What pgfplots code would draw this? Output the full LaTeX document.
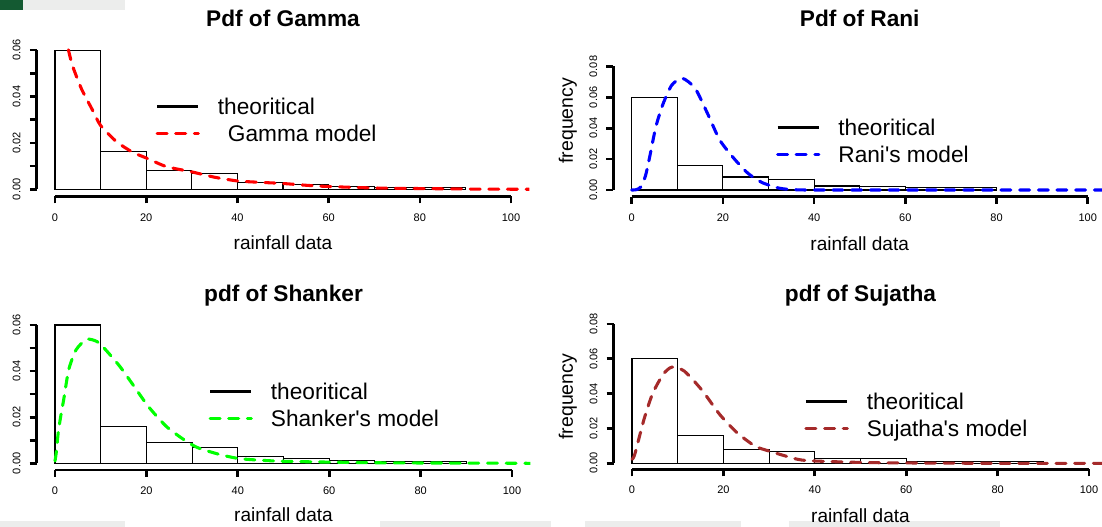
\documentclass[border=0pt]{standalone}
\usepackage{fontspec}
\setmainfont{Liberation Sans}[Ligatures=TeXOff]
\usepackage{pgfplots}
\pgfplotsset{compat=1.18}
\definecolor{rbrown}{RGB}{165,42,42}
\definecolor{rgreen}{RGB}{0,255,0}
\definecolor{rblue}{RGB}{0,0,255}
\definecolor{rred}{RGB}{255,0,0}
\definecolor{bggray}{RGB}{236,237,236}
\definecolor{logogreen}{RGB}{20,90,50}
\pgfplotsset{
  hist/.style={ybar interval, draw=black, fill=none, line width=0.8pt, forget plot},
  rdash/.style={line width=2.3pt, line cap=round, dash pattern=on 7.5pt off 6.5pt, smooth, tension=0.4},
  rpanel/.style={
    scale only axis,
    anchor=south west,
    xmin=-4, xmax=104,
    scaled y ticks=false, scaled x ticks=false,
    axis x line*=bottom, axis y line*=left,
    axis line style={line width=2pt, black, -},
    tick align=outside,
    major tick length=5.25pt,
    tick style={line width=2pt, black},
    xtick={0,20,40,60,80,100},
    xticklabels={0,20,40,60,80,100},
    /pgf/number format/assume math mode=true,
    tick label style={font=\fontsize{8.25}{9}\selectfont},
    xticklabel style={anchor=north, inner sep=0pt},
    yticklabel style={rotate=90, anchor=south, inner sep=0pt},
    xticklabel shift=7.3pt,
    yticklabel shift=6.8pt,
    every axis title/.style={font=\fontsize{17}{17}\selectfont\bfseries, at={(axis description cs:0.5,1)}, anchor=base},
    xlabel={rainfall data},
    legend cell align=left,
    legend image code/.code={\draw[##1] (0pt,0pt) -- (31pt,0pt);},
    legend style={draw=none, fill=none, inner sep=0pt, outer sep=0pt, anchor=west,
      row sep=8.2pt, column sep=13.5pt, font=\fontsize{17}{17}\selectfont,
      nodes={inner sep=0pt, text height=12.2pt, text depth=0pt}},
  },
  every axis x label/.style={font=\fontsize{14.3}{14.3}\selectfont, at={(axis description cs:0.5,0)}, anchor=base},
}
\begin{document}
\begin{tikzpicture}
\path[use as bounding box] (0pt,0pt) rectangle (826.5pt,395.25pt);
% background fragments of the page
\fill[bggray] (0pt,387.75pt) rectangle (93.75pt,395.25pt);
\fill[logogreen] (0pt,387.75pt) rectangle (17pt,395.25pt);
\fill[bggray] (0pt,0pt) rectangle (93.75pt,4.5pt);
\fill[bggray] (285pt,0pt) rectangle (413pt,4.5pt);
\fill[bggray] (439pt,0pt) rectangle (556pt,4.5pt);
\fill[bggray] (592pt,0pt) rectangle (750pt,4.5pt);

% ---------------- Gamma ----------------
\begin{axis}[rpanel,
  at={(27.57pt,247.875pt)}, width=369.4pt, height=114pt,
  ymin=-0.0031, ymax=0.0624,
  ytick={0,0.01,0.02,0.03,0.04,0.05,0.06},
  yticklabels={0.00,,0.02,,0.04,,0.06},
  x axis line style={shorten <=13.68pt, shorten >=13.68pt},
  y axis line style={shorten <=5.4pt, shorten >=4.18pt},
  title={Pdf of Gamma}, title style={yshift=13.35pt},
  xlabel style={yshift=-39.6pt},
  legend style={at={(axis cs:22.04,0.0300)}},
]
\addplot[hist] coordinates {(0,0.06) (10,0.0161) (20,0.0080) (30,0.0067) (40,0.0029) (50,0.0022) (60,0.0013) (70,0.0006) (80,0.0006) (90,0)};
\addlegendimage{black, line width=2.2pt}
\addlegendentry{theoritical}
\addplot[rdash, rred] coordinates {(2.2,0.068) (2.7,0.0622) (3.8,0.0535) (5.8,0.0433) (8.1,0.0346) (10,0.0275) (13.5,0.0205) (17,0.016) (20,0.0135) (24.4,0.0098) (30,0.0075) (35,0.0052) (40,0.0036) (45,0.003) (50,0.0025) (57.7,0.0014) (69.3,0.0006) (81,0.0003) (92,0.0001) (105,0)};
\addlegendentry{\hspace{7.5pt}Gamma model}
\end{axis}

% ---------------- Rani ----------------
\begin{axis}[rpanel,
  at={(460.1pt,247.725pt)}, width=369.4pt, height=101.35pt,
  ymin=-0.00434, ymax=0.0832,
  ytick={0,0.02,0.04,0.06,0.08},
  yticklabels={0.00,0.02,0.04,0.06,0.08},
  x axis line style={shorten <=13.68pt, shorten >=13.68pt},
  y axis line style={shorten <=5.03pt, shorten >=3.7pt},
  title={Pdf of Rani}, title style={yshift=26.2pt},
  xlabel style={yshift=-40pt},
  ylabel={frequency},
  every axis y label/.style={font=\fontsize{14.6}{14.6}\selectfont, at={([xshift=-34.3pt]axis description cs:0,0.562)}, rotate=90, anchor=center},
  legend style={at={(axis cs:31.64,0.03184)}},
]
\addplot[hist] coordinates {(0,0.06) (10,0.0158) (20,0.0084) (30,0.0071) (40,0.0026) (50,0.0024) (60,0.0015) (80,0)};
\addlegendimage{black, line width=2.2pt}
\addlegendentry{theoritical}
\addplot[rdash, rblue] coordinates {(0,0) (1,0.0002) (2,0.002) (3,0.009) (3.8,0.0194) (5.3,0.041) (6.9,0.056) (8.8,0.068) (11.1,0.0724) (13.9,0.0659) (16.6,0.0497) (19.3,0.0324) (22.4,0.0205) (25.5,0.0108) (28.6,0.0048) (32.5,0.0011) (36.4,0.0001) (45,0) (104,0)};
\addlegendentry{Rani's model}
\end{axis}

% ---------------- Shanker ----------------
\begin{axis}[rpanel,
  at={(27.54pt,42.75pt)}, width=370.2pt, height=112.9pt,
  ymin=-0.0029, ymax=0.0624,
  ytick={0,0.01,0.02,0.03,0.04,0.05,0.06},
  yticklabels={0.00,,0.02,,0.04,,0.06},
  x axis line style={shorten <=13.71pt, shorten >=13.71pt},
  y axis line style={shorten <=5.0pt, shorten >=4.15pt},
  title={pdf of Shanker}, title style={yshift=13.35pt},
  xlabel style={yshift=-38.8pt},
  legend style={at={(axis cs:33.59,0.02544)}},
]
\addplot[hist] coordinates {(0,0.06) (10,0.0161) (20,0.0089) (30,0.0068) (40,0.0029) (50,0.0020) (60,0.0013) (70,0.0009) (90,0)};
\addlegendimage{black, line width=2.2pt}
\addlegendentry{theoritical}
\addplot[rdash, rgreen] coordinates {(0,0.001) (0.3,0.005) (0.7,0.0132) (1.3,0.021) (1.9,0.0276) (3.0,0.0406) (4.6,0.0492) (6.9,0.0538) (9.2,0.0528) (11.1,0.0492) (14.2,0.042) (17.3,0.0334) (20.4,0.0247) (24.3,0.0161) (28.1,0.0104) (31.2,0.0068) (35.9,0.0039) (40.5,0.0020) (48.2,0.0010) (57.5,0.0006) (73,0.0002) (90,0.0001) (105,0)};
\addlegendentry{Shanker's model}
\end{axis}

% ---------------- Sujatha ----------------
\begin{axis}[rpanel,
  at={(460.29pt,43.275pt)}, width=370.2pt, height=113.2pt,
  ymin=-0.00345, ymax=0.0832,
  ytick={0,0.02,0.04,0.06,0.08},
  yticklabels={0.00,0.02,0.04,0.06,0.08},
  x axis line style={shorten <=13.71pt, shorten >=13.71pt},
  y axis line style={shorten <=4.5pt, shorten >=4.18pt},
  title={pdf of Sujatha}, title style={yshift=12.5pt},
  xlabel style={yshift=-40pt},
  ylabel={frequency},
  every axis y label/.style={font=\fontsize{14.6}{14.6}\selectfont, at={([xshift=-34.5pt]axis description cs:0,0.481)}, rotate=90, anchor=center},
  legend style={at={(axis cs:37.72,0.02774)}},
]
\addplot[hist] coordinates {(0,0.06) (10,0.0162) (20,0.0078) (30,0.0070) (40,0.0027) (50,0.0027) (60,0.0012) (70,0.0010) (90,0)};
\addlegendimage{black, line width=2.2pt}
\addlegendentry{theoritical}
\addplot[rdash, rbrown] coordinates {(0,0.0023) (0.6,0.0051) (2.6,0.025) (4.5,0.040) (6.8,0.051) (8.7,0.0552) (11.4,0.053) (15.3,0.042) (19.2,0.028) (23,0.0175) (26.9,0.0099) (30,0.0070) (36.2,0.0023) (40.1,0.0013) (51.7,0.0004) (67,0.0001) (80,0) (104,0)};
\addlegendentry{Sujatha's model}
\end{axis}
\end{tikzpicture}
\end{document}
